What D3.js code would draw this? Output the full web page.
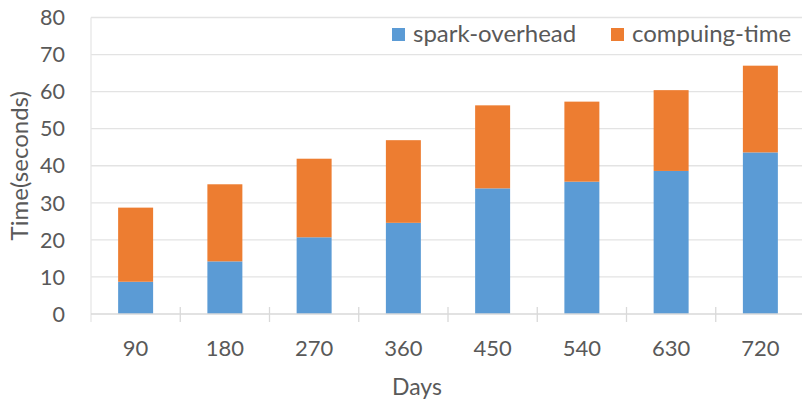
<!DOCTYPE html>
<html>
<head>
<meta charset="utf-8">
<script src="https://cdn.jsdelivr.net/npm/d3@7"></script>
<style>
  body { margin: 0; background: #fff; }
  text { font-family: Lato, "Open Sans", sans-serif; fill: #595959; }
</style>
</head>
<body>
<div id="chart"></div>
<script>
const days = ["90", "180", "270", "360", "450", "540", "630", "720"];
const sparkOverhead = [8.7, 14.2, 20.7, 24.6, 33.9, 35.7, 38.6, 43.6];
const computingTime = [20.0, 20.8, 21.2, 22.3, 22.4, 21.6, 21.8, 23.4];
const yTicks = [0, 10, 20, 30, 40, 50, 60, 70, 80];

const series = [
  { key: "spark", label: "spark-overhead", color: "#5b9bd5", values: sparkOverhead },
  { key: "compute", label: "compuing-time", color: "#ed7d31", values: computingTime }
];

const W = 802, H = 401;
const svg = d3.select("#chart").append("svg")
  .attr("width", W).attr("height", H);

const xScale = d3.scaleBand().domain(days).range([91, 805])
  .paddingInner(0.608).paddingOuter(0.304);
const yScale = d3.scaleLinear().domain([0, 80]).range([314, 17.5]);
const step = xScale.step();

// gridlines
svg.append("g").selectAll("line")
  .data(yTicks.filter(d => d > 0))
  .enter().append("line")
  .attr("x1", 91).attr("x2", 805)
  .attr("y1", d => yScale(d)).attr("y2", d => yScale(d))
  .attr("stroke", "#e3e3e3").attr("stroke-width", 1.3);

// left frame line
svg.append("line")
  .attr("x1", 91).attr("x2", 91)
  .attr("y1", yScale(80)).attr("y2", yScale(0) + 8)
  .attr("stroke", "#e6e6e6").attr("stroke-width", 1.3);

// stacked bars
const stacked = days.map((d, i) => ({ day: d, spark: sparkOverhead[i], compute: computingTime[i] }));
const stack = d3.stack().keys(series.map(s => s.key))(stacked);

svg.append("g").selectAll("g")
  .data(stack)
  .enter().append("g")
  .attr("fill", (d, i) => series[i].color)
  .selectAll("rect")
  .data(d => d)
  .enter().append("rect")
  .attr("x", d => xScale(d.data.day))
  .attr("width", xScale.bandwidth())
  .attr("y", d => yScale(d[1]))
  .attr("height", d => yScale(d[0]) - yScale(d[1]));

// x axis line and ticks between categories
svg.append("line")
  .attr("x1", 91).attr("x2", 805)
  .attr("y1", yScale(0)).attr("y2", yScale(0))
  .attr("stroke", "#d9d9d9").attr("stroke-width", 1.3);

svg.append("g").selectAll("line")
  .data(days.slice(1))
  .enter().append("line")
  .attr("x1", d => xScale(d) - xScale.paddingOuter() * step)
  .attr("x2", d => xScale(d) - xScale.paddingOuter() * step)
  .attr("y1", yScale(0) - 7).attr("y2", yScale(0) + 8)
  .attr("stroke", "#d9d9d9").attr("stroke-width", 1.3);

// tick labels
svg.append("g").selectAll("text")
  .data(yTicks)
  .enter().append("text")
  .attr("x", 65)
  .attr("y", d => yScale(d))
  .attr("dy", "0.36em")
  .attr("text-anchor", "end")
  .style("font-size", "21.5px")
  .text(d => d);

svg.append("g").selectAll("text")
  .data(days)
  .enter().append("text")
  .attr("x", d => xScale(d) + xScale.bandwidth() / 2)
  .attr("y", 356)
  .attr("text-anchor", "middle")
  .style("font-size", "22px")
  .text(d => d);

// axis titles
svg.append("text")
  .attr("x", 417).attr("y", 395)
  .attr("text-anchor", "middle")
  .style("font-size", "23px")
  .text("Days");

svg.append("text")
  .attr("transform", `translate(28, ${(yScale(0) + yScale(80)) / 2}) rotate(-90)`)
  .attr("text-anchor", "middle")
  .style("font-size", "24px")
  .text("Time(seconds)");

// legend
const legendX = [392, 611];
const legend = svg.append("g").selectAll("g")
  .data(series)
  .enter().append("g")
  .attr("transform", (d, i) => `translate(${legendX[i]}, 28)`);

legend.append("rect")
  .attr("width", 13).attr("height", 13)
  .attr("fill", d => d.color);

legend.append("text")
  .attr("x", 21).attr("y", 14)
  .style("font-size", "24px")
  .text(d => d.label);
</script>
</body>
</html>
